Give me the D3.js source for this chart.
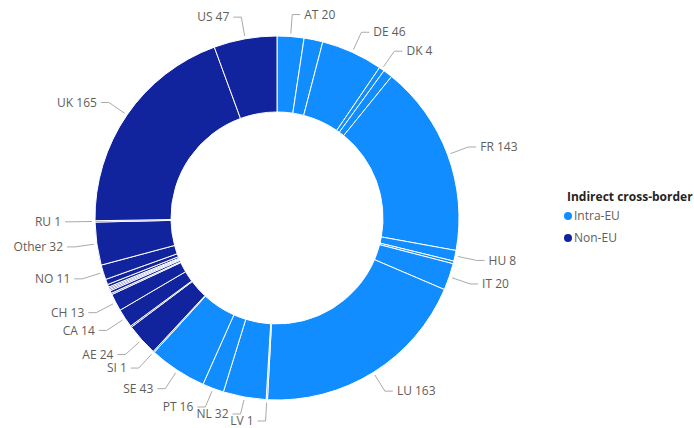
<!DOCTYPE html>
<html>
<head>
<meta charset="utf-8">
<script src="https://cdn.jsdelivr.net/npm/d3@7"></script>
<style>
    body { margin: 0; background: #fff; }
    svg { display: block; font-family: "Segoe UI", "Open Sans", sans-serif; }
</style>
</head>
<body>
<svg id="chart" width="694" height="428"></svg>
<script>
// slices in drawing order, clockwise from 12 o'clock
const euCountries = ["AT", "BE", "DE", "DK", "ES", "FR", "HU", "IE", "IT", "LU", "LV", "NL", "PT", "SE", "SI"];
const euValues    = [20, 14, 46, 4, 7, 143, 8, 2, 20, 163, 1, 32, 16, 43, 1];

const nonEuCountries = ["AE", "AU", "CA", "CH", "CN", "HK", "IL", "IN", "JE", "JP", "KY", "NO", "Other", "RU", "UK", "US"];
const nonEuValues    = [24, 1, 14, 13, 1, 2, 1, 1, 1, 2, 4, 11, 32, 1, 165, 47];

// only these slices get a data label in the original
const shownLabels = ["AT", "DE", "DK", "FR", "HU", "IT", "LU", "LV", "NL", "PT", "SE", "SI",
                     "AE", "CA", "CH", "NO", "Other", "RU", "UK", "US"];

const groups = ["Intra-EU", "Non-EU"];
const groupColors = ["#118DFF", "#12239E"];

const slices = euCountries.map((c, i) => ({name: c, value: euValues[i], group: groups[0]}))
    .concat(nonEuCountries.map((c, i) => ({name: c, value: nonEuValues[i], group: groups[1]})));

const svg = d3.select("#chart");
const cx = 277, cy = 218;
const outerR = 182, innerR = 106;

const color = d3.scaleOrdinal().domain(groups).range(groupColors);

const pie = d3.pie()
    .sort(null)
    .value(d => d.value);

const arc = d3.arc()
    .innerRadius(innerR)
    .outerRadius(outerR);

const g = svg.append("g").attr("transform", `translate(${cx},${cy})`);

const arcs = pie(slices);

g.selectAll("path.slice")
    .data(arcs)
    .join("path")
    .attr("class", "slice")
    .attr("d", arc)
    .attr("fill", d => color(d.data.group))
    .attr("stroke", "#fff")
    .attr("stroke-width", 1);

// labels with elbow leaders
function polar(r, a) {
    return [r * Math.sin(a), -r * Math.cos(a)];
}

const labelled = arcs.filter(d => shownLabels.includes(d.data.name))
    .map(d => {
        const mid = (d.startAngle + d.endAngle) / 2;
        const p1 = polar(outerR + 22, mid);
        p1[1] = Math.min(p1[1], 203);   // keep the bottom label inside the frame
        return {d, mid, right: mid < Math.PI, p1};
    });

// push crowded labels on the left side upwards (bottom first)
const leftSide = labelled.filter(l => !l.right).sort((a, b) => b.p1[1] - a.p1[1]);
for (let i = 1; i < leftSide.length; i++) {
    leftSide[i].p1[1] = Math.min(leftSide[i].p1[1], leftSide[i - 1].p1[1] - 7);
}

labelled.forEach(l => {
    const p0 = polar(outerR + 3, l.mid);
    const p1 = l.p1;
    const p2 = [p1[0] + (l.right ? 8 : -8), p1[1]];

    g.append("polyline")
        .attr("points", [p0, p1, p2].map(p => p.join(",")).join(" "))
        .attr("fill", "none")
        .attr("stroke", "#aaa")
        .attr("stroke-width", 1);

    g.append("text")
        .attr("x", p2[0] + (l.right ? 4 : -4))
        .attr("y", p1[1])
        .attr("dy", "0.35em")
        .attr("text-anchor", l.right ? "start" : "end")
        .attr("fill", "#605E5C")
        .style("font-size", "12px")
        .text(l.d.data.name + " " + l.d.data.value);
});

// legend
const legend = svg.append("g").attr("transform", "translate(567,197)");

legend.append("text")
    .attr("x", 0)
    .attr("y", 0)
    .attr("dy", "0.35em")
    .attr("fill", "#252423")
    .style("font-size", "12px")
    .style("font-weight", "bold")
    .text("Indirect cross-border");

groups.forEach((grp, i) => {
    const y = 19 + i * 22;
    legend.append("circle")
        .attr("cx", 1)
        .attr("cy", y)
        .attr("r", 4)
        .attr("fill", groupColors[i]);
    legend.append("text")
        .attr("x", 7)
        .attr("y", y)
        .attr("dy", "0.35em")
        .attr("fill", "#605E5C")
        .style("font-size", "12px")
        .text(grp);
});
</script>
</body>
</html>
